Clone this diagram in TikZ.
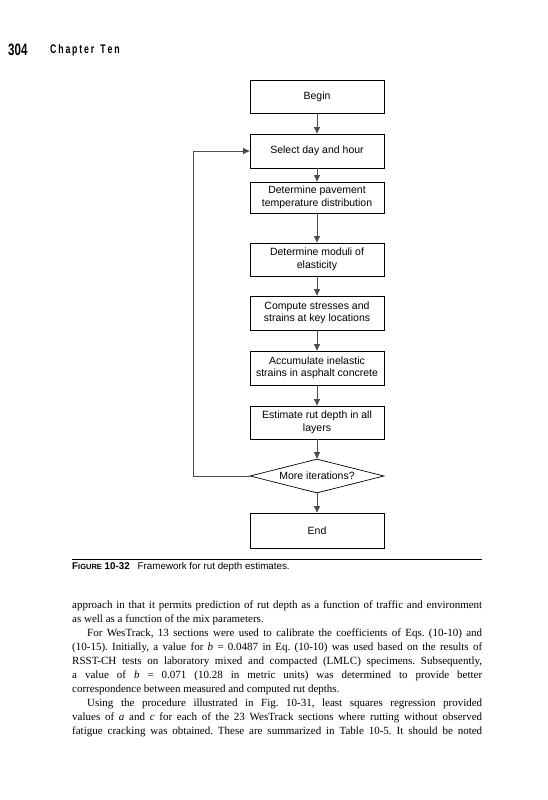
\documentclass[tikz,border=0pt]{standalone}
\usepackage{fontspec}
\usepackage{graphicx}
\setmainfont{Liberation Serif}
\newfontfamily\flowfont{Liberation Sans}
\usetikzlibrary{shapes.geometric,arrows.meta}
\newcommand{\lsp}{\kern2.6pt}
\frenchspacing
\begin{document}
\begin{tikzpicture}[x=1pt,y=-1pt,
  box/.style={draw=black,line width=0.8pt,minimum width=134pt,inner sep=0pt,align=center,
    font=\flowfont\fontsize{10.5}{12.5}\selectfont},
  decision/.style={diamond,draw=black,line width=0.7pt,minimum width=134pt,minimum height=34pt,
    aspect=4,inner sep=0pt,font=\flowfont\fontsize{10.5}{12.5}\selectfont},
  conn/.style={draw=black!70,line width=0.7pt,-{Triangle[width=6pt,length=6.5pt]}},
  body/.style={anchor=base west,inner sep=0pt,font=\fontsize{11}{14}\selectfont},
  hdr/.style={anchor=west,inner sep=0pt}
]
\useasboundingbox (0,0) rectangle (547,800);

% header
\node[hdr] (pgnum) at (8,50) {\scalebox{0.7}[1]{\flowfont\bfseries\fontsize{16.5}{18}\selectfont 304}};
\node[hdr] (chap) at (50,50) {\scalebox{0.7}[1]{\flowfont\bfseries\fontsize{12.5}{14}\selectfont C\lsp h\lsp a\lsp p\lsp t\lsp e\lsp r\kern9pt T\lsp e\lsp n}};

% flowchart
\node[box,minimum height=33pt] (begin) at (317,96.5) {Begin};
\node[box,minimum height=34pt] (select) at (317,151) {Select day and hour};
\node[box,minimum height=31pt] (temp) at (317,197.5) {Determine pavement\\temperature distribution};
\node[box,minimum height=33pt] (moduli) at (317,259.5) {Determine moduli of\\elasticity};
\node[box,minimum height=34pt] (compute) at (317,313) {Compute stresses and\\strains at key locations};
\node[box,minimum height=34pt] (accum) at (317,368) {Accumulate inelastic\\strains in asphalt concrete};
\node[box,minimum height=33pt] (estimate) at (317,422.5) {Estimate rut depth in all\\layers};
\node[decision] (more) at (317,476) {More iterations?};
\node[box,minimum height=35pt] (end) at (317,530.5) {End};

\draw[conn] (begin) -- (select);
\draw[conn] (select) -- (temp);
\draw[conn] (temp) -- (moduli);
\draw[conn] (moduli) -- (compute);
\draw[conn] (compute) -- (accum);
\draw[conn] (accum) -- (estimate);
\draw[conn] (estimate) -- (more);
\draw[conn] (more) -- (end);
\coordinate (loopc) at (193,476);
\draw[conn] (more.west) -- (loopc) |- (select.west);

% rule and caption
\coordinate (ruleL) at (72,559);
\coordinate (ruleR) at (482,559);
\draw[line width=0.9pt] (ruleL) -- (ruleR);
\node[anchor=base west,inner sep=0pt,font=\flowfont\fontsize{9.8}{11}\selectfont] (cap) at (72,569.5)
  {\textbf{F{\fontsize{7.5}{9}\selectfont IGURE} 10-32}\hspace{8pt}Framework for rut depth estimates.};

% body text
\node[body] (l1) at (72,608) {\makebox[410pt][s]{approach in that it permits prediction of rut depth as a function of traffic and environment}};
\node[body] (l2) at (72,622) {as well as a function of the mix parameters.};
\node[body] (l3) at (87,636) {\makebox[395pt][s]{For WesTrack, 13 sections were used to calibrate the coefficients of Eqs. (10-10) and}};
\node[body] (l4) at (72,650) {\makebox[410pt][s]{(10-15). Initially, a value for \textit{b} = 0.0487 in Eq. (10-10) was used based on the results of}};
\node[body] (l5) at (72,664) {\makebox[410pt][s]{RSST-CH tests on laboratory mixed and compacted (LMLC) specimens. Subsequently,}};
\node[body] (l6) at (72,678) {\makebox[410pt][s]{a value of \textit{b} = 0.071 (10.28 in metric units) was determined to provide better}};
\node[body] (l7) at (72,692) {correspondence between measured and computed rut depths.};
\node[body] (l8) at (87,706) {\makebox[395pt][s]{Using the procedure illustrated in Fig. 10-31, least squares regression provided}};
\node[body] (l9) at (72,720) {\makebox[410pt][s]{values of \textit{a} and \textit{c} for each of the 23 WesTrack sections where rutting without observed}};
\node[body] (l10) at (72,734) {\makebox[410pt][s]{fatigue cracking was obtained. These are summarized in Table 10-5. It should be noted}};
\end{tikzpicture}
\end{document}
